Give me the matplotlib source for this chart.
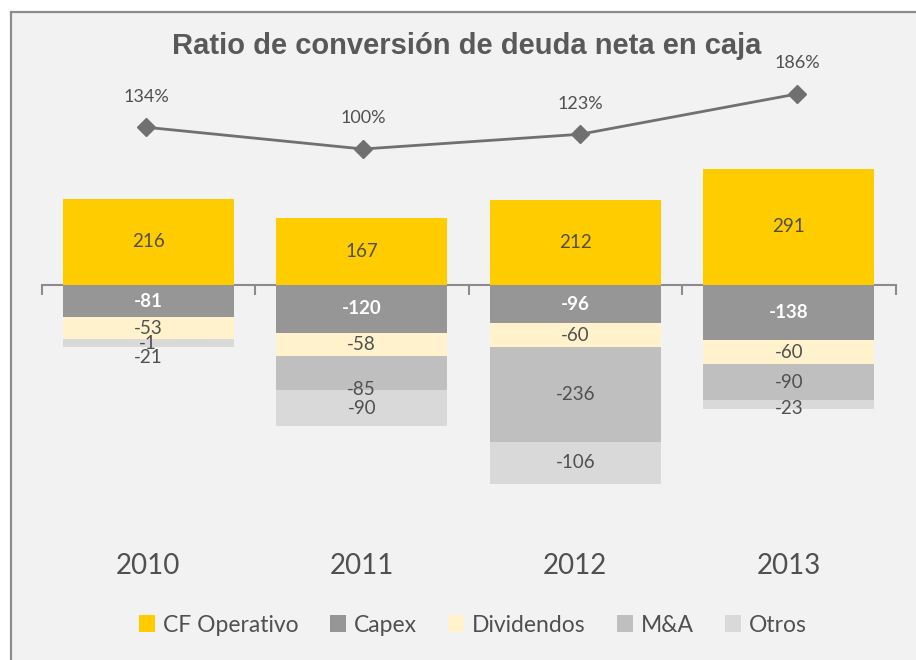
import numpy as np
import matplotlib.pyplot as plt
import matplotlib.transforms as mtransforms
from matplotlib.patches import Rectangle, Patch

years = ['2010', '2011', '2012', '2013']
series = ['CF Operativo', 'Capex', 'Dividendos', 'M&A', 'Otros']
cf_operativo = [216, 167, 212, 291]
capex = [-81, -120, -96, -138]
dividendos = [-53, -58, -60, -60]
m_and_a = [-1, -85, -236, -90]
otros = [-21, -90, -106, -23]
ratio = [134, 100, 123, 186]

colors = ['#FFCC00', '#969696', '#FFF2CC', '#BFBFBF', '#D9D9D9']
txt = '#505050'
plt.rcParams['font.family'] = ['Lato', 'DejaVu Sans']

W, H = 916, 660
fig = plt.figure(figsize=(W / 100, H / 100), dpi=100)
fig.patch.set_facecolor('white')
# grey chart panel with border (right/bottom edges run off the image)
fig.patches.append(Rectangle((10.5 / W, -0.05), 1.1, 1 - 12 / H + 0.05, transform=fig.transFigure,
                             facecolor='#F2F2F2', edgecolor='#8C8C8C', lw=1.6, zorder=-5))

ax = fig.add_axes([41.5 / W, 1 - 540 / H, 854 / W, 480 / H])
ax.patch.set_visible(False)
x = np.arange(len(years))
ax.set_xlim(-0.5, 3.5)
ax.set_ylim(-637.5, 562.5)

# manual label nudges (pixels down) where labels were moved in the original
nudge = {(0, 3): 5, (0, 4): 14, (1, 3): 16, (3, 4): 4}

ax.bar(x, cf_operativo, width=0.8, color=colors[0], zorder=2)
for i, v in enumerate(cf_operativo):
    ax.text(x[i], v / 2, str(v), ha='center', va='center', fontsize=13.5, color=txt, zorder=5)

bottom = np.zeros(len(years))
for k, vals in enumerate([capex, dividendos, m_and_a, otros], start=1):
    vals = np.array(vals)
    ax.bar(x, vals, width=0.8, bottom=bottom, color=colors[k], zorder=2)
    for i, v in enumerate(vals):
        yc = bottom[i] + v / 2
        off = nudge.get((i, k), 0) * 0.72
        ax.annotate(str(v), (x[i], yc), xytext=(0, -off), textcoords='offset points',
                    ha='center', va='center', fontsize=13.5,
                    color='white' if k == 1 else txt,
                    fontweight='bold' if k == 1 else 'normal', zorder=5)
    bottom += vals

for s in ['top', 'right', 'left']:
    ax.spines[s].set_visible(False)
ax.spines['bottom'].set_position(('data', 0))
ax.spines['bottom'].set_color('#8C8C8C')
ax.spines['bottom'].set_linewidth(1.5)
ax.spines['bottom'].set_zorder(1)
ax.set_yticks([])
ax.set_xticks(np.arange(-0.5, 4, 1))
ax.tick_params(axis='x', direction='out', length=7, width=1.5, color='#8C8C8C', labelbottom=False)

trans = mtransforms.blended_transform_factory(ax.transData, fig.transFigure)
for i, y in enumerate(years):
    ax.text(x[i], 1 - 566 / H, y, transform=trans, ha='center', va='center', fontsize=20, color=txt)

# ratio line on its own overlay axes
ax2 = fig.add_axes(ax.get_position())
ax2.patch.set_visible(False)
ax2.axis('off')
ax2.set_xlim(-104.5 / 217, -104.5 / 217 + 854 / 217)
ax2.set_ylim(100 - (540 - 149) / 0.64, 100 + (149 - 60) / 0.64)
ax2.plot(x, ratio, color='#707070', lw=2, marker='D', markersize=9,
         markerfacecolor='#707070', markeredgecolor='#707070', zorder=4)
for i, r in enumerate(ratio):
    ax2.annotate(f'{r}%', (x[i], r), xytext=(0, 22), textcoords='offset points',
                 ha='center', va='center', fontsize=13, color=txt)

fig.text(467 / W, 1 - 46 / H, 'Ratio de conversión de deuda neta en caja', ha='center', va='center',
         fontsize=21, fontweight='bold', color='#595959', family='Liberation Sans')

handles = [Patch(facecolor=c, edgecolor='none') for c in colors]
fig.legend(handles, series, loc='center', bbox_to_anchor=(473 / W, 1 - 625 / H), ncol=5,
           frameon=False, fontsize=16.5, labelcolor=txt, handlelength=0.7, handleheight=0.7,
           handletextpad=0.35, columnspacing=1.35)

fig.savefig('out.png', dpi=100)
